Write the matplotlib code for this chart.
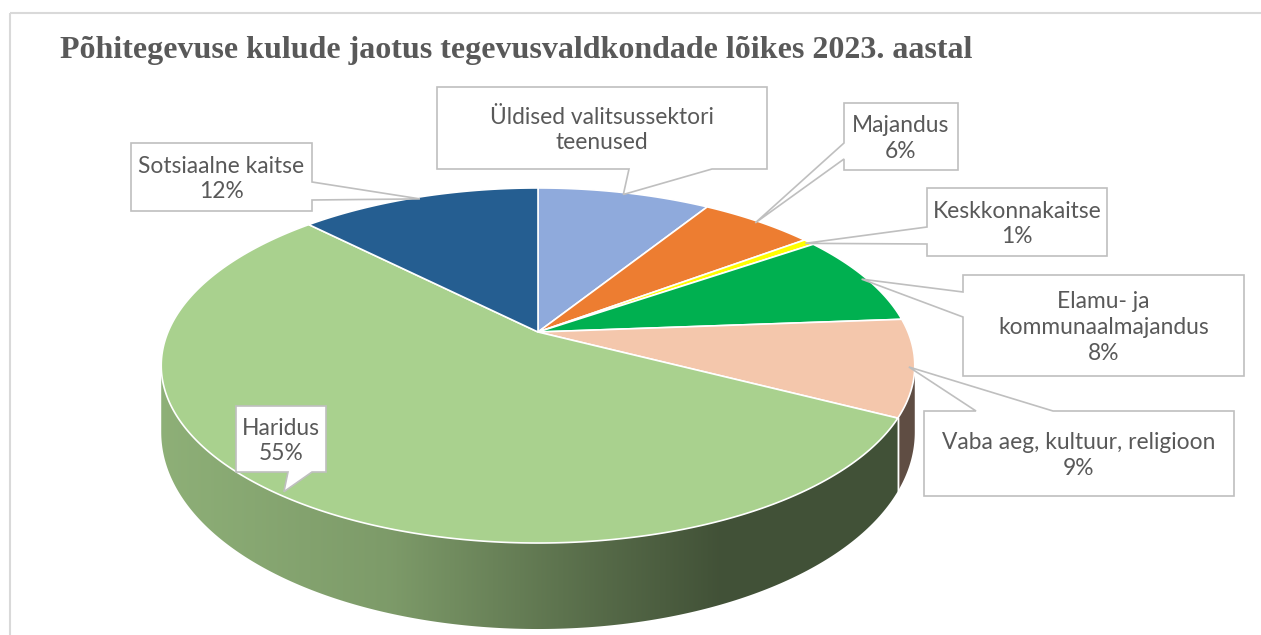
import numpy as np
import matplotlib
matplotlib.use("Agg")
import matplotlib.pyplot as plt
from matplotlib.patches import Polygon, Rectangle
from matplotlib.colors import to_rgb

# ---------------- data ----------------
title = "Põhitegevuse kulude jaotus tegevusvaldkondade lõikes 2023. aastal"
categories = ["Üldised valitsussektori teenused", "Majandus", "Keskkonnakaitse",
              "Elamu- ja kommunaalmajandus", "Vaba aeg, kultuur, religioon",
              "Haridus", "Sotsiaalne kaitse"]
shares = [8.9, 5.9, 0.6, 8.4, 8.8, 55.0, 12.4]
label_names = ["Üldised valitsussektori\nteenused", "Majandus", "Keskkonnakaitse",
               "Elamu- ja\nkommunaalmajandus", "Vaba aeg, kultuur, religioon",
               "Haridus", "Sotsiaalne kaitse"]
show_pct = [False, True, True, True, True, True, True]
colors = ["#8FAADC", "#ED7D31", "#FFFF00", "#00B050", "#F4C7AC", "#A9D18E", "#255E91"]

# ---------------- layout (pixel space) ----------------
W, H = 1261, 635
CX, CY = 538, 332          # apex of the pie
A, B, K = 370.0, 171.2, -0.1887   # perspective ellipse parameters
TEXT_COLOR = "#595959"
FONT = "Lato"
FS = 16.4

# callout boxes: (x0, y0, x1, y1), edge of pointer, pointer base a..b
callouts = [
    ((437, 87, 767, 169), "bottom", 629, 712),
    ((844, 103, 958, 170), "left", 143, 159),
    ((927, 188, 1107, 256), "left", 227, 244),
    ((963, 275, 1244, 376), "left", 292, 317),
    ((924, 411, 1234, 496), "top", 976, 1053),
    ((236, 406, 326, 472), "bottom", 288, 312),
    ((131, 143, 312, 211), "right", 182, 200),
]


def rim(phi_deg, r=1.0):
    p = np.radians(phi_deg)
    u = r * np.sin(p)
    v = -r * np.cos(p)
    s = 1 + K * v
    return CX + A * u / s, CY + B * v / s, v


def depth(v):
    return 62 + 24 * v


fig = plt.figure(figsize=(W / 100, H / 100), dpi=100)
ax = fig.add_axes([0, 0, 1, 1])
ax.set_xlim(0, W)
ax.set_ylim(H, 0)
ax.axis("off")

# outer border
ax.add_patch(Rectangle((10, 13), 1400, 800, fill=False, ec="#D9D9D9", lw=1.5, zorder=0))

# cumulative angles (clockwise from 12 o'clock)
total = sum(shares)
bounds = np.concatenate([[0], np.cumsum(shares)]) / total * 360.0

phiR = np.degrees(np.arccos(K))
phiL = 360 - phiR


def shade(x):
    return np.interp(x, [160, 390, 600, 720, 920], [0.84, 0.74, 0.51, 0.39, 0.39])


# ---- sides ----
for i, c in enumerate(colors):
    lo = max(bounds[i], phiR)
    hi = min(bounds[i + 1], phiL)
    if hi <= lo:
        continue
    ph = np.linspace(lo, hi, 200)
    xs, ys, vs = rim(ph)
    yb = ys + depth(vs)
    pts = np.vstack([np.column_stack([xs, ys]), np.column_stack([xs[::-1], yb[::-1]])])
    poly = Polygon(pts, closed=True, fc="none", ec="none", zorder=1)
    ax.add_patch(poly)
    xmin, xmax = pts[:, 0].min() - 2, pts[:, 0].max() + 2
    ymin, ymax = pts[:, 1].min() - 2, pts[:, 1].max() + 2
    gx = np.linspace(xmin, xmax, 400)
    base = np.array(to_rgb(c))
    row = np.clip(shade(gx)[:, None] * base[None, :], 0, 1)
    img = np.repeat(row[None, :, :], 2, axis=0)
    im = ax.imshow(img, extent=[xmin, xmax, ymax, ymin], aspect="auto",
                   interpolation="bilinear", zorder=1)
    im.set_clip_path(poly)
    # white seam at slice boundary on the side
    for edge_phi in (bounds[i], bounds[i + 1]):
        if phiR < edge_phi < phiL:
            ex, ey, ev = rim(edge_phi)
            ax.plot([ex, ex], [ey, ey + depth(ev)], color="white", lw=1.0, zorder=2)

ax.set_xlim(0, W)
ax.set_ylim(H, 0)

# ---- top face ----
for i, c in enumerate(colors):
    ph = np.linspace(bounds[i], bounds[i + 1], max(int(bounds[i + 1] - bounds[i]) * 3, 4))
    xs, ys, _ = rim(ph)
    pts = np.vstack([[CX, CY], np.column_stack([xs, ys])])
    ax.add_patch(Polygon(pts, closed=True, fc=c, ec="white", lw=1.2, joinstyle="round", zorder=3))

# ---- callouts ----
px_per_pt = 100 / 72
for i, (box, edge, a, b) in enumerate(callouts):
    x0, y0, x1, y1 = box
    mid = (bounds[i] + bounds[i + 1]) / 2
    tx, ty, _ = rim(mid, 0.985)
    tip = (tx, ty)
    pts = [(x0, y0)]
    if edge == "top":
        pts += [(a, y0), tip, (b, y0)]
    pts.append((x1, y0))
    if edge == "right":
        pts += [(x1, a), tip, (x1, b)]
    pts.append((x1, y1))
    if edge == "bottom":
        pts += [(b, y1), tip, (a, y1)]
    pts.append((x0, y1))
    if edge == "left":
        pts += [(x0, b), tip, (x0, a)]
    ax.add_patch(Polygon(pts, closed=True, fc="white", ec="#BFBFBF", lw=1.2, zorder=5))
    txt = label_names[i]
    if show_pct[i]:
        txt += "\n" + f"{round(shares[i])}%"
    ax.text((x0 + x1) / 2, (y0 + y1) / 2 + 2, txt, ha="center", va="center",
            fontsize=FS, color=TEXT_COLOR, family=FONT,
            linespacing=29 / (FS * px_per_pt), zorder=6)

# ---- title ----
ax.text(60, 58, title, ha="left", va="baseline", fontsize=23, fontweight="bold",
        family="Liberation Serif", color=TEXT_COLOR, zorder=6)

fig.savefig("out.png", dpi=100)
